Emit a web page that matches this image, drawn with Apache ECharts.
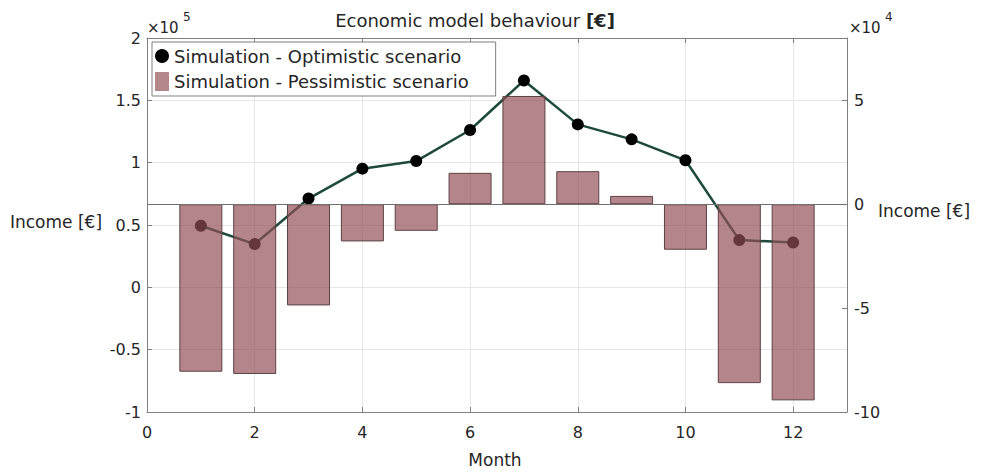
<!DOCTYPE html>
<html><head><meta charset="utf-8">
<script src="https://cdn.jsdelivr.net/npm/echarts@6/dist/echarts.min.js"></script>
<style>html,body{margin:0;padding:0;background:#fff}#c{width:983px;height:472px}</style>
</head><body><div id="c"></div>
<script>
const months = [1, 2, 3, 4, 5, 6, 7, 8, 9, 10, 11, 12];
const optimistic = [49400, 34700, 71200, 95200, 101300, 126200, 165900, 130700, 118700, 101900, 37900, 36000];
const pessimistic = [-80600, -81700, -48700, -17900, -12800, 15100, 52100, 15900, 4000, -21900, -86100, -94400];
const xTicks = [0, 2, 4, 6, 8, 10, 12];
const leftTicks = [-1, -0.5, 0, 0.5, 1, 1.5, 2];   // ×10^5
const rightTicks = [-10, -5, 0, 5];                // ×10^4
const seriesNames = ['Simulation - Optimistic scenario', 'Simulation - Pessimistic scenario'];
const titleMain = 'Economic model behaviour ';
const titleUnit = '[€]';
const yName = 'Income [€]';
const xName = 'Month';

const FONT = 'DejaVu Sans';
const TXT = '#262626';
const AX = '#7f7f7f';
const GRIDC = '#e6e6e6';
const BARFILL = 'rgba(146,80,87,0.69)';

const chart = echarts.init(document.getElementById('c'), null, {renderer: 'svg'});
const tickStyle = {show: true, inside: true, length: 5, lineStyle: {color: AX}};
const labelStyle = {fontFamily: FONT, fontSize: 16, color: TXT};

chart.setOption({
  animation: false,
  backgroundColor: '#fff',
  grid: {left: 147, right: 136, top: 38, bottom: 60, containLabel: false},
  legend: {
    orient: 'vertical', left: 152, top: 42,
    backgroundColor: '#fff', borderColor: AX, borderWidth: 1,
    padding: [5, 27, 5, 3], itemGap: 7, itemWidth: 14, itemHeight: 19,
    textStyle: {fontFamily: FONT, fontSize: 18, color: TXT},
    data: [
      {name: seriesNames[0], icon: 'circle', itemStyle: {color: '#000'}},
      {name: seriesNames[1], icon: 'rect', itemStyle: {color: '#b4878a', borderWidth: 0}}
    ]
  },
  xAxis: [
    {type: 'value', position: 'bottom', min: 0, max: 13, interval: 2,
     axisLine: {show: true, onZero: false, lineStyle: {color: AX}},
     axisTick: tickStyle,
     axisLabel: Object.assign({margin: 12, formatter: v => xTicks.includes(v) ? String(v) : ''}, labelStyle),
     splitLine: {show: true, lineStyle: {color: GRIDC}}},
    {type: 'value', position: 'top', min: 0, max: 13, interval: 2,
     axisLine: {show: true, onZero: false, lineStyle: {color: AX}},
     axisTick: tickStyle, axisLabel: {show: false}, splitLine: {show: false}}
  ],
  yAxis: [
    {type: 'value', position: 'left', min: -100000, max: 200000, interval: 50000,
     axisLine: {show: true, onZero: false, lineStyle: {color: AX}},
     axisTick: tickStyle,
     axisLabel: Object.assign({margin: 6, formatter: v => leftTicks.includes(v / 1e5) ? String(v / 1e5) : ''}, labelStyle),
     splitLine: {show: true, lineStyle: {color: GRIDC}}},
    {type: 'value', position: 'right', min: -100000, max: 80000, interval: 50000,
     axisLine: {show: true, onZero: false, lineStyle: {color: AX}},
     axisTick: tickStyle,
     axisLabel: Object.assign({margin: 7, formatter: v => rightTicks.includes(v / 1e4) ? String(v / 1e4) : ''}, labelStyle),
     splitLine: {show: false}}
  ],
  series: [
    {type: 'line', name: seriesNames[0], xAxisIndex: 0, yAxisIndex: 0, z: 2,
     data: months.map((m, i) => [m, optimistic[i]]),
     lineStyle: {color: '#1d4a39', width: 2.5},
     symbol: 'circle', symbolSize: 12, itemStyle: {color: '#000'}},
    {type: 'bar', name: seriesNames[1], xAxisIndex: 0, yAxisIndex: 1, z: 3,
     data: months.map((m, i) => [m, pessimistic[i]]),
     barWidth: 43,
     itemStyle: {color: BARFILL, borderColor: '#5e4042', borderWidth: 1},
     markLine: {silent: true, symbol: 'none', label: {show: false},
       lineStyle: {color: '#707070', width: 1, type: 'solid'},
       data: [{yAxis: 0}]}}
  ],
  graphic: [
    {type: 'text', x: 475, y: 20, style: {text: '{a|' + titleMain + '}{b|' + titleUnit + '}', align: 'center', verticalAlign: 'middle',
      rich: {a: {fontFamily: FONT, fontSize: 18, fill: TXT, color: TXT}, b: {fontFamily: FONT, fontSize: 18, fontWeight: 'bold', fill: TXT, color: TXT}}}},
    {type: 'text', x: 147, y: 28, style: {text: '×10', fontFamily: FONT, fontSize: 15, fill: TXT, align: 'left', verticalAlign: 'middle'}},
    {type: 'text', x: 183, y: 17, style: {text: '5', fontFamily: FONT, fontSize: 12, fill: TXT, align: 'left', verticalAlign: 'middle'}},
    {type: 'text', x: 849, y: 28, style: {text: '×10', fontFamily: FONT, fontSize: 15, fill: TXT, align: 'left', verticalAlign: 'middle'}},
    {type: 'text', x: 885, y: 17, style: {text: '4', fontFamily: FONT, fontSize: 12, fill: TXT, align: 'left', verticalAlign: 'middle'}},
    {type: 'text', x: 56, y: 222, style: {text: yName, fontFamily: FONT, fontSize: 17, fill: TXT, align: 'center', verticalAlign: 'middle'}},
    {type: 'text', x: 878, y: 211, style: {text: yName, fontFamily: FONT, fontSize: 17, fill: TXT, align: 'left', verticalAlign: 'middle'}},
    {type: 'text', x: 495, y: 460, style: {text: xName, fontFamily: FONT, fontSize: 17, fill: TXT, align: 'center', verticalAlign: 'middle'}}
  ]
});
</script></body></html>
